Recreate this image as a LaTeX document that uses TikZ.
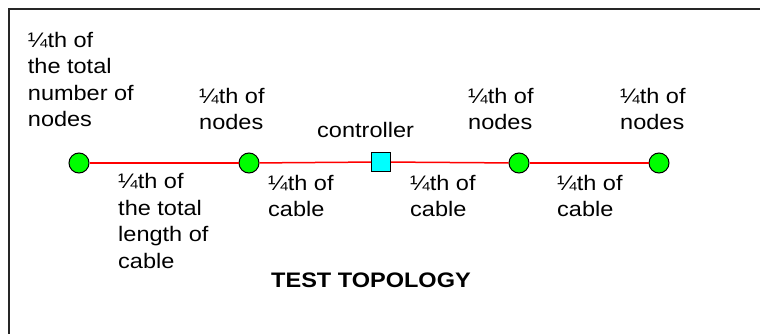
\documentclass[tikz,border=0pt]{standalone}
\usepackage{fontspec}
\setmainfont{Liberation Sans}
\usepackage{tikz}
\usetikzlibrary{positioning}
\definecolor{aqua}{RGB}{0,255,255}
\definecolor{lime}{RGB}{0,255,0}
\tikzstyle{station} = [circle, minimum size=20pt, inner sep=0pt, draw=black, line width=1pt, fill=lime]
\tikzstyle{master}  = [rectangle, minimum size=19pt, inner sep=0pt, draw=black, line width=1pt, fill=aqua]
\tikzstyle{cable}   = [red, line width=1.5pt]
\tikzstyle{txt}     = [anchor=base west, inner sep=0pt, xscale=1.12, font=\fontsize{21}{26.5}\selectfont]
\tikzstyle{frame}   = [line width=1.6pt, black!85]
\tikzset{every node/.style={align=left}}

\begin{document}
\begin{tikzpicture}[x=1pt, y=-1pt]
    \useasboundingbox (0,0) rectangle (760,334);
    \draw [frame] (9,334) |- (760,9);

    \node (st1)  at (79,  163)  [station] {};
    \node (st2)  at (249, 163)  [station] {};
    \node (ctl)  at (381, 162)  [master]  {};
    \node (st3)  at (519, 163)  [station] {};
    \node (st4)  at (659, 163)  [station] {};

    % node counts above the bus (placed by the baseline of the last line)
    \node (q1)   at (27.7, 126.7) [txt] {¼th of\\the total\\number of\\nodes};
    \node (q2)   at (199, 130)    [txt] {¼th of\\nodes};
    \node (qc)   at (317, 138)    [txt] {controller};
    \node (q3)   at (468, 130)    [txt] {¼th of\\nodes};
    \node (q4)   at (620, 130)    [txt] {¼th of\\nodes};

    % cable lengths below the bus
    \node (l1)   at (118, 268.3)  [txt] {¼th of\\the total\\length of\\cable};
    \node (l2)   at (268, 216.7)  [txt] {¼th of\\cable};
    \node (l3)   at (410, 216.7)  [txt] {¼th of\\cable};
    \node (l4)   at (557, 216.7)  [txt] {¼th of\\cable};

    \node (ttl)  at (271, 287.7)  [txt, font=\fontsize{21}{26.5}\selectfont\bfseries] {TEST TOPOLOGY};

    \draw [cable] (st1) -- (st2);
    \draw [cable] (st2) -- (ctl);
    \draw [cable] (ctl) -- (st3);
    \draw [cable] (st3) -- (st4);
\end{tikzpicture}
\end{document}
